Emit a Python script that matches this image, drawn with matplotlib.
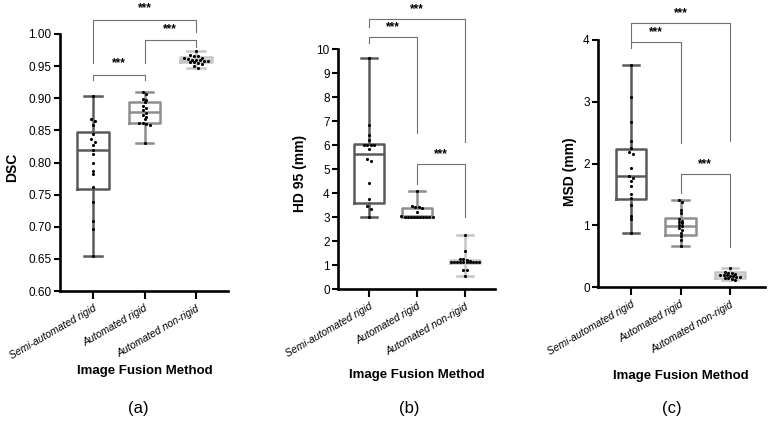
import numpy as np
import matplotlib.pyplot as plt

plt.rcParams['font.family'] = ['Liberation Sans', 'DejaVu Sans']

groups = ["Semi-automated rigid", "Automated rigid", "Automated non-rigid"]
box_colors = ['#5a5a5a', '#8e8e8e', '#c6c6c6']

# DSC values
dsc_semi = [0.903, 0.868, 0.865, 0.859, 0.845, 0.836, 0.832, 0.827, 0.820, 0.813,
            0.800, 0.787, 0.782, 0.762, 0.738, 0.709, 0.697, 0.655]
dsc_auto = [0.909, 0.907, 0.899, 0.897, 0.894, 0.888, 0.885, 0.881, 0.877, 0.874,
            0.871, 0.868, 0.862, 0.861, 0.860, 0.859, 0.830]
dsc_nonrigid = [0.973, 0.967, 0.966, 0.965, 0.963, 0.962, 0.961, 0.960, 0.960, 0.959,
                0.958, 0.958, 0.957, 0.956, 0.955, 0.953, 0.950, 0.947]
# min, q1, median, q3, max
dsc_box = [[0.655, 0.758, 0.820, 0.848, 0.903],
           [0.830, 0.862, 0.878, 0.894, 0.909],
           [0.947, 0.956, 0.960, 0.964, 0.973]]

# HD 95 (mm), panel (b)
hd_semi = [9.64, 6.85, 6.4, 6.2, 6.02, 6.0, 6.0, 5.98, 5.85, 5.4, 5.32, 4.4, 3.75, 3.45, 3.35, 3.0]
hd_auto = [4.1, 3.45, 3.42, 3.4, 3.38, 3.2, 3.05, 3.02, 3.0, 3.0, 3.0, 3.0, 3.0, 3.0, 3.0, 3.0, 3.0]
hd_nonrigid = [2.25, 1.58, 1.25, 1.25, 1.2, 1.15, 1.12, 1.12, 1.12, 1.12, 1.12, 1.12, 1.12,
               1.12, 1.12, 1.12, 0.8, 0.78, 0.55]
hd_box = [[3.0, 3.57, 5.62, 6.04, 9.64],
          [3.0, 3.02, 3.05, 3.38, 4.1],
          [0.55, 1.1, 1.12, 1.2, 2.25]]

# MSD (mm), panel (c)
msd_semi = [3.6, 3.07, 2.68, 2.36, 2.25, 2.18, 2.15, 1.93, 1.79, 1.77, 1.72, 1.63, 1.5,
            1.44, 1.32, 1.15, 1.1, 0.88]
msd_auto = [1.41, 1.38, 1.25, 1.2, 1.1, 1.07, 1.05, 1.03, 1.0, 0.98, 0.95, 0.92, 0.88,
            0.83, 0.76, 0.66]
msd_nonrigid = [0.31, 0.25, 0.23, 0.22, 0.21, 0.2, 0.2, 0.19, 0.18, 0.18, 0.17, 0.16,
                0.15, 0.14, 0.13, 0.12]
msd_box = [[0.88, 1.43, 1.79, 2.24, 3.6],
           [0.66, 0.85, 0.99, 1.11, 1.41],
           [0.12, 0.15, 0.19, 0.24, 0.31]]


def swarm(vals, dy, dx):
    # simple row-wise beeswarm: near-equal values are spread sideways
    v = np.sort(np.asarray(vals, float))[::-1]
    offs = np.zeros(len(v))
    start = 0
    for i in range(1, len(v) + 1):
        if i == len(v) or v[start] - v[i] > dy:
            n = i - start
            offs[start:i] = (np.arange(n) - (n - 1) / 2) * dx
            start = i
    return v, offs


def bracket(ax, x1, x2, y, yl, yr, ys):
    ax.plot([x1, x1, x2, x2], [yl, y, y, yr], color='#707070', lw=0.8, clip_on=False)
    ax.text((x1 + x2) / 2, ys, '***', ha='center', va='center', fontsize=8.5,
            fontweight='bold', clip_on=False)


def panel(rect, xlim, ylim, yticks, fmt, samples, boxes, dy, dx, brackets):
    ax = fig.add_axes(rect)
    for i, (vals, st, col) in enumerate(zip(samples, boxes, box_colors)):
        stats = [dict(whislo=st[0], q1=st[1], med=st[2], q3=st[3], whishi=st[4], fliers=[])]
        props = dict(color=col, linewidth=1.8)
        ax.bxp(stats, positions=[i + 1], widths=0.62, capwidths=0.34, showfliers=False,
               boxprops=props, whiskerprops=props, capprops=props, medianprops=props)
        v, o = swarm(vals, dy, dx)
        ax.scatter(i + 1 + o, v, s=5, color='black', zorder=5, linewidths=0)
    for b in brackets:
        bracket(ax, *b)
    ax.set_xlim(*xlim)
    ax.set_ylim(*ylim)
    ax.set_yticks(yticks)
    ax.set_yticklabels([fmt % t for t in yticks], fontsize=8.5)
    ax.set_xticks([1, 2, 3])
    ax.set_xticklabels(groups, rotation=30, ha='right', rotation_mode='anchor',
                       fontstyle='italic', fontsize=7.5)
    for s in ['top', 'right']:
        ax.spines[s].set_visible(False)
    for s in ['left', 'bottom']:
        ax.spines[s].set_linewidth(1.9)
    ax.tick_params(axis='x', length=6, width=1.5, pad=3)
    ax.tick_params(axis='y', length=4, width=1.5, pad=2)
    return ax


fig = plt.figure(figsize=(7.7, 4.23), dpi=100)

panel([60 / 770, 1 - 291 / 423, 168 / 770, 257 / 423], (0.36, 3.62), (0.60, 1.00),
      np.arange(0.60, 1.001, 0.05), '%.2f',
      [dsc_semi, dsc_auto, dsc_nonrigid], dsc_box, 0.0045, 0.075,
      [(1, 3, 1.0218, 0.9549, 1.0031, 1.040),
       (2, 3, 0.9907, 0.9549, 0.9798, 1.0073),
       (1, 2, 0.9362, 0.9284, 0.9284, 0.9544)])

panel([338 / 770, 1 - 289 / 423, 157 / 770, 240 / 423], (0.354, 3.625), (0, 10),
      np.arange(0, 11, 1), '%d',
      [hd_semi, hd_auto, hd_nonrigid], hd_box, 0.12, 0.065,
      [(1, 3, 11.24, 10.93, 6.14, 11.65),
       (1, 2, 10.51, 10.24, 6.51, 10.93),
       (2, 3, 5.21, 4.375, 2.99, 5.625)])

panel([598 / 770, 1 - 287 / 423, 167 / 770, 247 / 423], (0.333, 3.707), (0, 4),
      np.arange(0, 5, 1), '%d',
      [msd_semi, msd_auto, msd_nonrigid], msd_box, 0.045, 0.065,
      [(1, 3, 4.28, 3.97, 2.37, 4.43),
       (1, 2, 3.96, 3.865, 2.34, 4.13),
       (2, 3, 1.825, 1.52, 0.64, 1.99)])

# axis titles and panel letters
for x, y, txt in [(12, 167, 'DSC'), (300, 173, 'HD 95 (mm)'), (570, 172, 'MSD (mm)')]:
    fig.text(x / 770, 1 - y / 423, txt, rotation=90, ha='center', va='center',
             fontsize=10, fontweight='bold')
for x, y in [(145, 371), (417, 375), (681, 376)]:
    fig.text(x / 770, 1 - y / 423, 'Image Fusion Method', ha='center', va='center',
             fontsize=9.5, fontweight='bold')
for x, txt in [(138, '(a)'), (409, '(b)'), (672, '(c)')]:
    fig.text(x / 770, 1 - 408 / 423, txt, ha='center', va='center', fontsize=12)

fig.savefig('out.png', dpi=100)
